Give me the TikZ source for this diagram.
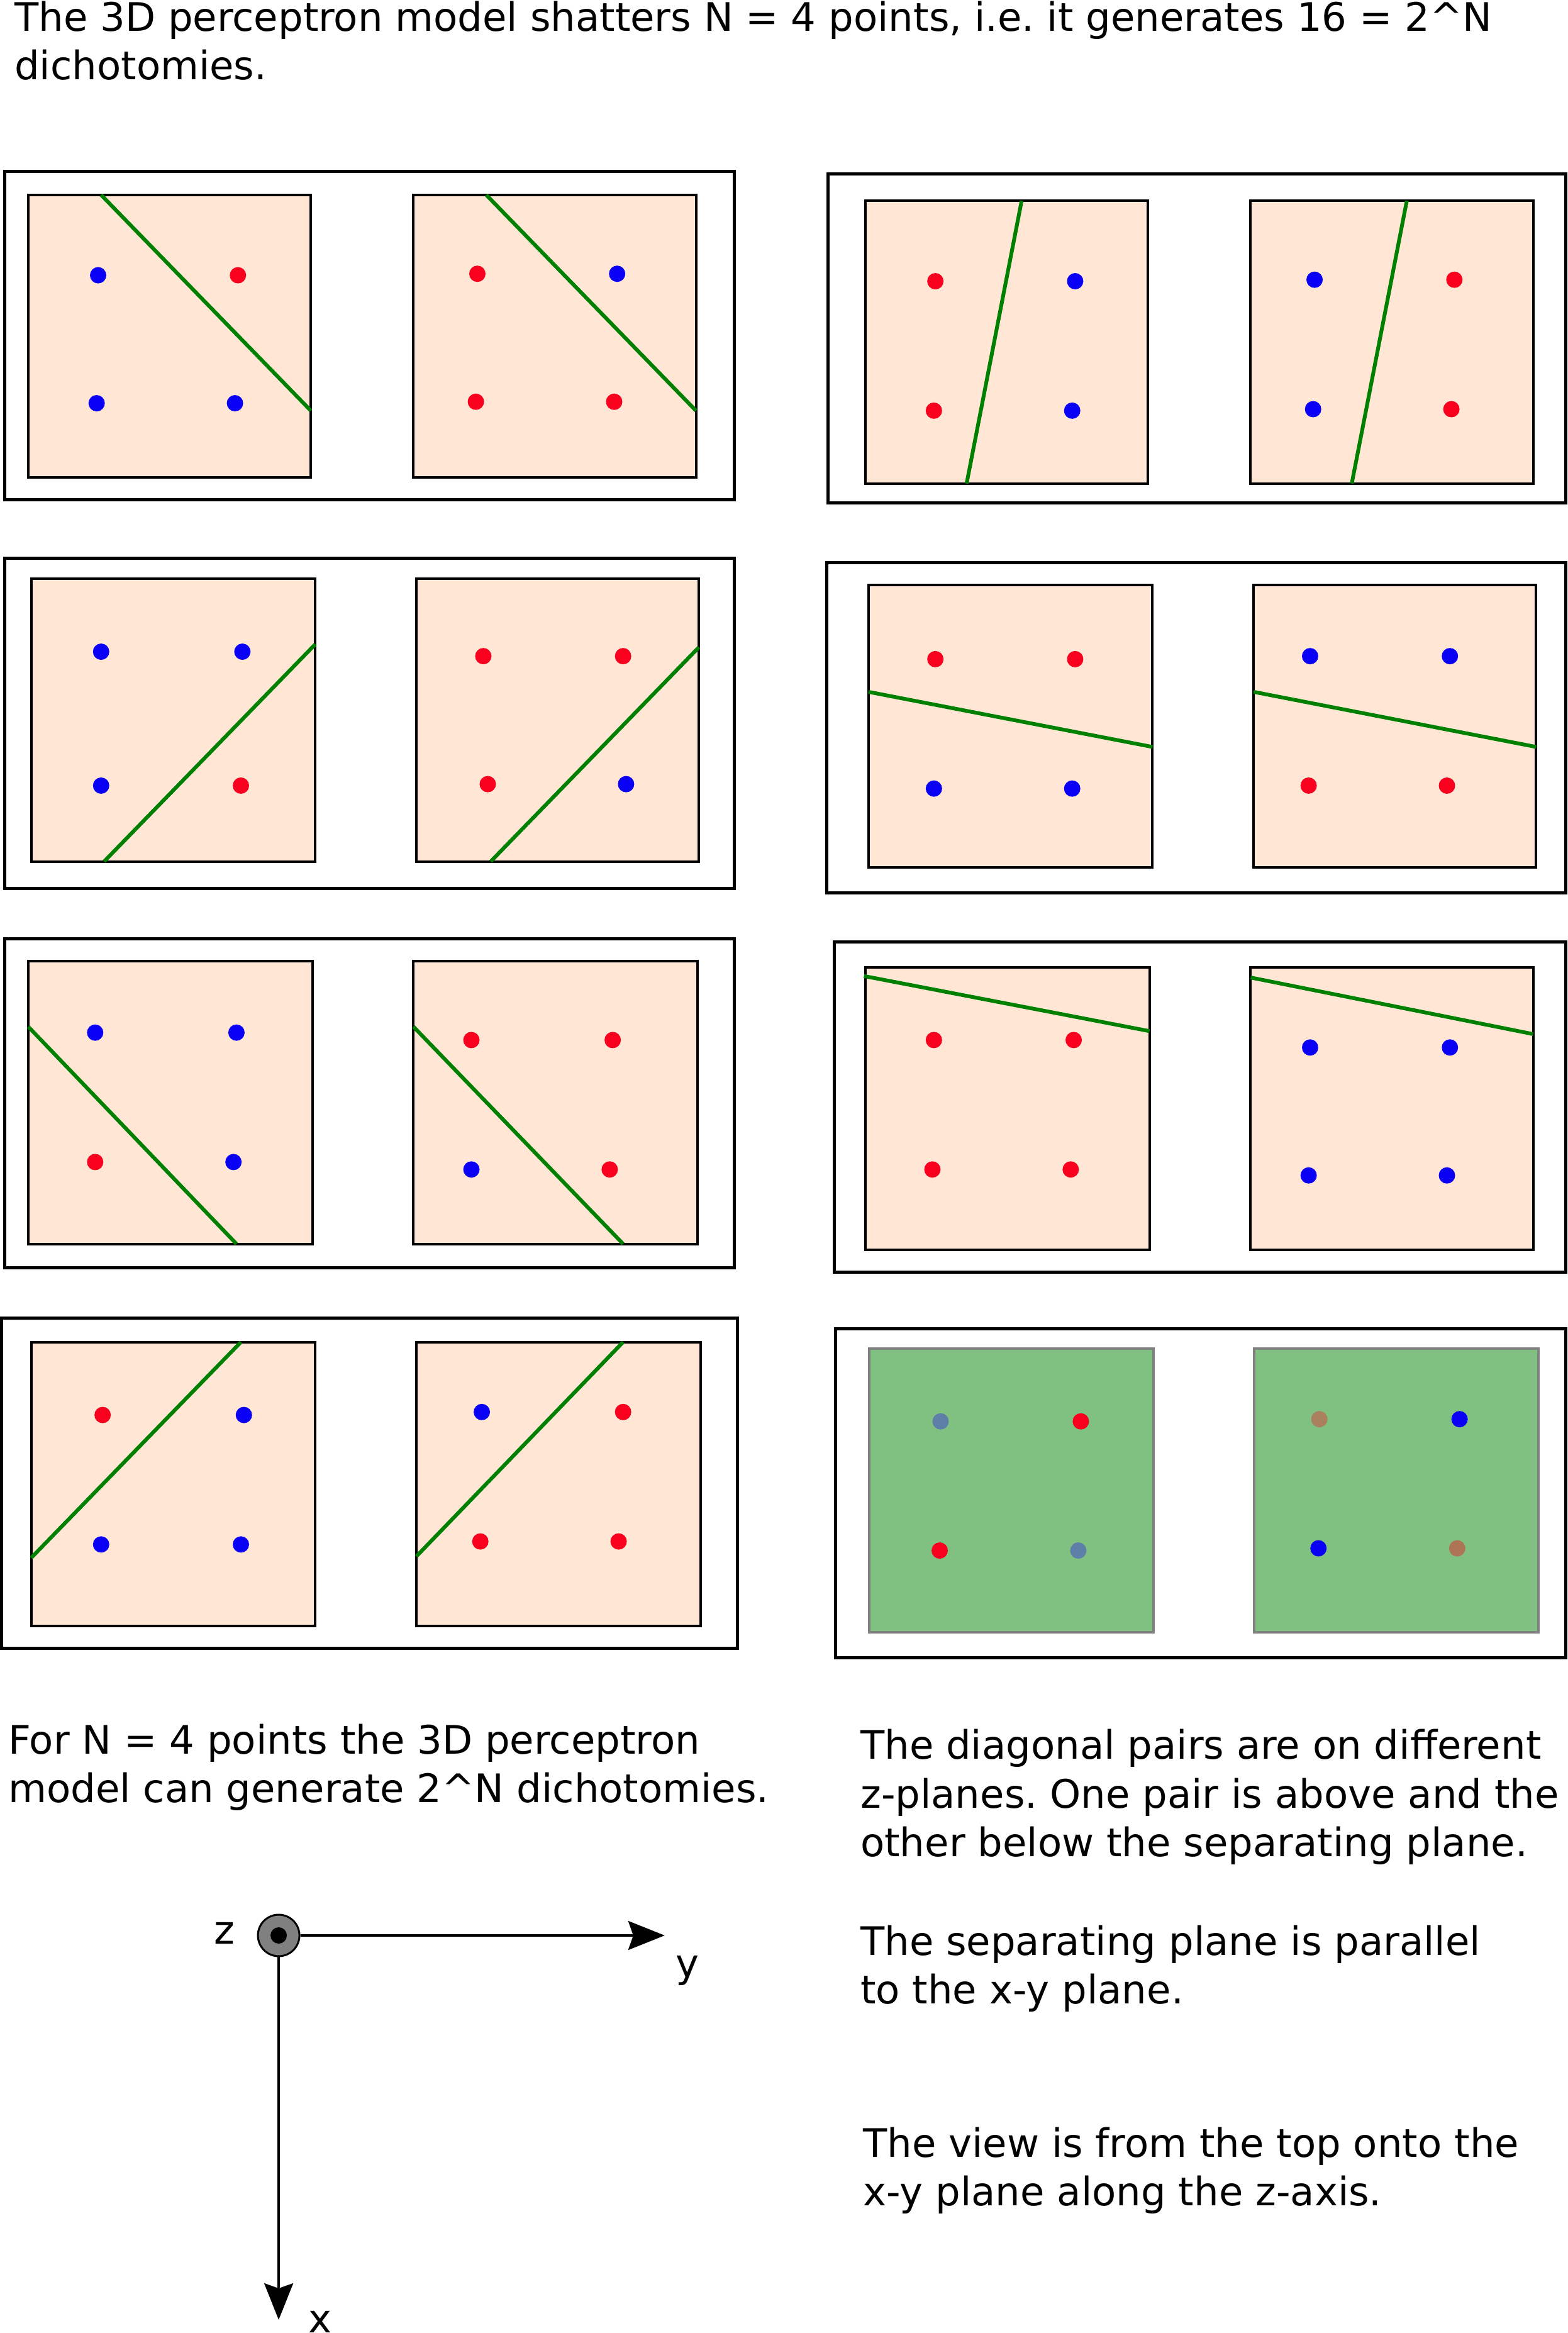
\documentclass[tikz,border=0pt]{standalone}
\usepackage{fontspec}
\setmainfont{DejaVu Sans}
\usetikzlibrary{arrows.meta}
\frenchspacing
\definecolor{peach}{HTML}{FFE6D5}
\definecolor{dotred}{RGB}{248,0,30}
\definecolor{dotblue}{RGB}{10,0,245}
\definecolor{sepgreen}{HTML}{008000}
\definecolor{planegreen}{HTML}{80C080}
\definecolor{planegray}{HTML}{808080}
\definecolor{slateblue}{RGB}{94,128,168}
\definecolor{brownA}{RGB}{170,128,94}
\definecolor{brownB}{RGB}{174,116,86}
\newcommand\pdot[2]{\fill[#1] (#2) circle[radius=13pt];}
\begin{document}
\begin{tikzpicture}[x=2.3643pt,y=-2.3654pt,
  outerbox/.style={draw=black, line width=5pt},
  sqbox/.style={draw=black, fill=peach, line width=4pt},
  greenbox/.style={draw=planegray, fill=planegreen, line width=4pt},
  sepline/.style={draw=sepgreen, line width=6pt},
  txt/.style={anchor=base west, inner sep=0pt, font=\fontsize{62.5pt}{77.5pt}\selectfont},
  axisarrow/.style={line width=3.5pt, -{Stealth[length=58pt,width=46pt,inset=8pt]}}]
\useasboundingbox (0,0) rectangle (1054,1568);

% ---------- Row 1 left
\draw[outerbox] (3,115) rectangle (494,336);
\draw[sqbox] (19,131) rectangle (209,321);
\draw[sepline] (68,131) -- (209,276);
\pdot{dotblue}{66,185}\pdot{dotred}{160,185}\pdot{dotblue}{65,271}\pdot{dotblue}{158,271}
\draw[sqbox] (278,131) rectangle (468,321);
\draw[sepline] (327,131) -- (468,276);
\pdot{dotred}{321,184}\pdot{dotblue}{415,184}\pdot{dotred}{320,270}\pdot{dotred}{413,270}

% ---------- Row 1 right
\draw[outerbox] (557,117) rectangle (1053,338);
\draw[sqbox] (582,135) rectangle (772,325);
\draw[sepline] (687,135) -- (650,325);
\pdot{dotred}{629,189}\pdot{dotblue}{723,189}\pdot{dotred}{628,276}\pdot{dotblue}{721,276}
\draw[sqbox] (841,135) rectangle (1031,325);
\draw[sepline] (946,135) -- (909,325);
\pdot{dotblue}{884,188}\pdot{dotred}{978,188}\pdot{dotblue}{883,275}\pdot{dotred}{976,275}

% ---------- Row 2 left
\draw[outerbox] (3,375) rectangle (494,597);
\draw[sqbox] (21,389) rectangle (212,579);
\draw[sepline] (70,579) -- (212,433);
\pdot{dotblue}{68,438}\pdot{dotblue}{163,438}\pdot{dotblue}{68,528}\pdot{dotred}{162,528}
\draw[sqbox] (280,389) rectangle (470,579);
\draw[sepline] (330,579) -- (470,435);
\pdot{dotred}{325,441}\pdot{dotred}{419,441}\pdot{dotred}{328,527}\pdot{dotblue}{421,527}

% ---------- Row 2 right
\draw[outerbox] (556,378) rectangle (1053,600);
\draw[sqbox] (584,393) rectangle (775,583);
\draw[sepline] (584,465) -- (775,502);
\pdot{dotred}{629,443}\pdot{dotred}{723,443}\pdot{dotblue}{628,530}\pdot{dotblue}{721,530}
\draw[sqbox] (843,393) rectangle (1033,583);
\draw[sepline] (843,465) -- (1033,502);
\pdot{dotblue}{881,441}\pdot{dotblue}{975,441}\pdot{dotred}{880,528}\pdot{dotred}{973,528}

% ---------- Row 3 left
\draw[outerbox] (3,631) rectangle (494,852);
\draw[sqbox] (19,646) rectangle (210,836);
\draw[sepline] (19,690) -- (159,836);
\pdot{dotblue}{64,694}\pdot{dotblue}{159,694}\pdot{dotred}{64,781}\pdot{dotblue}{157,781}
\draw[sqbox] (278,646) rectangle (469,836);
\draw[sepline] (278,690) -- (419,836);
\pdot{dotred}{317,699}\pdot{dotred}{412,699}\pdot{dotblue}{317,786}\pdot{dotred}{410,786}

% ---------- Row 3 right
\draw[outerbox] (561,633) rectangle (1053,855);
\draw[sqbox] (582,650) rectangle (773,840);
\draw[sepline] (581,656) -- (773,693);
\pdot{dotred}{628,699}\pdot{dotred}{722,699}\pdot{dotred}{627,786}\pdot{dotred}{720,786}
\draw[sqbox] (841,650) rectangle (1031,840);
\draw[sepline] (841,657) -- (1031,695);
\pdot{dotblue}{881,704}\pdot{dotblue}{975,704}\pdot{dotblue}{880,790}\pdot{dotblue}{973,790}

% ---------- Row 4 left
\draw[outerbox] (1,886) rectangle (496,1108);
\draw[sqbox] (21,902) rectangle (212,1093);
\draw[sepline] (21,1047) -- (162,902);
\pdot{dotred}{69,951}\pdot{dotblue}{164,951}\pdot{dotblue}{68,1038}\pdot{dotblue}{162,1038}
\draw[sqbox] (280,902) rectangle (471,1093);
\draw[sepline] (280,1046) -- (419,902);
\pdot{dotblue}{324,949}\pdot{dotred}{419,949}\pdot{dotred}{323,1036}\pdot{dotred}{416,1036}

% ---------- Row 4 right (separating plane parallel to x-y)
\draw[outerbox] (562,893) rectangle (1053,1114);
\draw[greenbox] (584.5,906.5) rectangle (775.5,1097);
\pdot{slateblue}{632.5,955.3}\pdot{dotred}{726.8,955.3}\pdot{dotred}{631.9,1042.1}\pdot{slateblue}{725.1,1042.1}
\draw[greenbox] (843.2,906.5) rectangle (1034.4,1097);
\pdot{brownA}{887.2,953.8}\pdot{dotblue}{981.5,953.8}\pdot{dotblue}{886.6,1040.6}\pdot{brownB}{979.9,1040.6}

% ---------- Texts
\node[txt] (t1) at (23pt,-49.3pt) {The 3D perceptron model shatters N = 4 points, i.e. it generates 16 = 2\textasciicircum N};
\node[txt] (t2) at (23pt,-126.7pt) {dichotomies.};

\node[txt] (l1) at (13pt,-2788.3pt) {For N = 4 points the 3D perceptron};
\node[txt] (l2) at (13pt,-2865.7pt) {model can generate 2\textasciicircum N dichotomies.};

\node[txt] (r1) at (1368pt,-2796.7pt) {The diagonal pairs are on different};
\node[txt] (r2) at (1368pt,-2874.2pt) {z-planes. One pair is above and the};
\node[txt] (r3) at (1368pt,-2951.7pt) {other below the separating plane.};
\node[txt] (r4) at (1368pt,-3108pt) {The separating plane is parallel};
\node[txt] (r5) at (1368pt,-3185.5pt) {to the x-y plane.};
\node[txt] (r6) at (1372pt,-3429pt) {The view is from the top onto the};
\node[txt] (r7) at (1372pt,-3506.5pt) {x-y plane along the z-axis.};

% ---------- Axes
\node[circle, draw=black, fill=planegray, line width=3pt, minimum size=66pt, inner sep=0pt] (zaxis) at (187.4,1300.8) {};
\fill[black] (zaxis.center) circle[radius=13pt];
\coordinate (ytip) at (447,1300.8);
\coordinate (xtip) at (187.4,1559.1);
\draw[axisarrow] (zaxis.east) -- (ytip);
\draw[axisarrow] (zaxis.south) -- (xtip);
\node[txt] (lz) at (340pt,-3090pt) {z};
\node[txt] (ly) at (1074pt,-3143pt) {y};
\node[txt] (lx) at (490pt,-3708pt) {x};
\end{tikzpicture}
\end{document}
